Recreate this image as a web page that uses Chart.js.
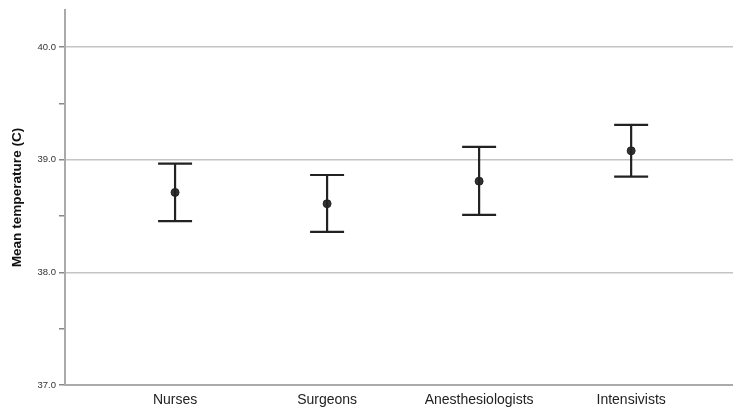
<!DOCTYPE html>
<html>
<head>
<meta charset="utf-8">
<script src="https://cdn.jsdelivr.net/npm/chart.js@4/dist/chart.umd.min.js"></script>
<style>
  html, body { margin: 0; padding: 0; background: #fff; }
  #wrap { width: 733px; height: 409px; }
</style>
</head>
<body>
<div id="wrap"><canvas id="c" width="733" height="409"></canvas></div>
<script>
// Groups and their mean temperature with the interval bounds
const categories = ['Nurses', 'Surgeons', 'Anesthesiologists', 'Intensivists'];
const means = [38.71, 38.61, 38.81, 39.08];
const lower = [38.455, 38.36, 38.51, 38.85];
const upper = [38.965, 38.865, 39.115, 39.31];
const yTicks = [37.0, 37.5, 38.0, 38.5, 39.0, 39.5, 40.0];

const FONT = "'Liberation Sans', Arial, sans-serif";

// Draws the vertical interval with caps for each group
const errorBars = {
  id: 'errorBars',
  afterDatasetsDraw(chart) {
    const { ctx, scales: { x, y } } = chart;
    ctx.save();
    ctx.strokeStyle = '#222';
    ctx.lineWidth = 2.2;
    ctx.lineCap = 'butt';
    const cap = 17;
    categories.forEach((_, i) => {
      const px = x.getPixelForValue(i);
      const pLo = y.getPixelForValue(lower[i]);
      const pHi = y.getPixelForValue(upper[i]);
      ctx.beginPath();
      ctx.moveTo(px, pLo); ctx.lineTo(px, pHi);
      ctx.moveTo(px - cap, pHi); ctx.lineTo(px + cap, pHi);
      ctx.moveTo(px - cap, pLo); ctx.lineTo(px + cap, pLo);
      ctx.stroke();
    });
    ctx.restore();
  }
};

new Chart(document.getElementById('c'), {
  type: 'scatter',
  data: {
    datasets: [{
      data: means.map((m, i) => ({ x: i, y: m })),
      pointRadius: 4,
      pointBackgroundColor: '#333',
      pointBorderColor: '#222',
      pointBorderWidth: 1,
      showLine: false
    }]
  },
  options: {
    responsive: false,
    animation: false,
    layout: { autoPadding: false, padding: { top: 10, right: 0, left: 0, bottom: 0 } },
    plugins: { legend: { display: false }, tooltip: { enabled: false } },
    scales: {
      x: {
        type: 'linear',
        min: -0.724,
        max: 3.67,
        afterBuildTicks: (s) => { s.ticks = categories.map((_, i) => ({ value: i })); },
        afterFit: (s) => { s.height = 24; s.paddingLeft = 0; s.paddingRight = 0; },
        grid: { display: true, drawOnChartArea: false, drawTicks: false },
        border: { display: true, color: '#aaa', width: 2 },
        ticks: {
          padding: 7,
          color: '#222',
          font: { family: FONT, size: 14 },
          maxRotation: 0,
          autoSkip: false,
          callback: (v) => categories[v] ?? ''
        }
      },
      y: {
        min: 37,
        max: 40.33,
        afterBuildTicks: (s) => { s.ticks = yTicks.map(v => ({ value: v })); },
        afterFit: (s) => { s.width = 65; s.paddingTop = 0; s.paddingBottom = 0; },
        grid: {
          color: (c) => Number.isInteger(c.tick?.value) ? '#c4c4c4' : 'rgba(0,0,0,0)',
          lineWidth: 1.5,
          tickColor: '#888',
          tickLength: 6,
          drawTicks: true
        },
        border: { display: true, color: '#aaa', width: 2 },
        ticks: {
          padding: 3,
          color: '#333',
          font: { family: FONT, size: 9.5 },
          callback: (v) => Number.isInteger(v) ? v.toFixed(1) : ''
        },
        title: {
          display: true,
          text: 'Mean temperature (C)',
          color: '#111',
          font: { family: FONT, size: 13.6, weight: 'bold' },
          padding: { top: 9, bottom: 0 }
        }
      }
    }
  },
  plugins: [errorBars]
});
</script>
</body>
</html>
